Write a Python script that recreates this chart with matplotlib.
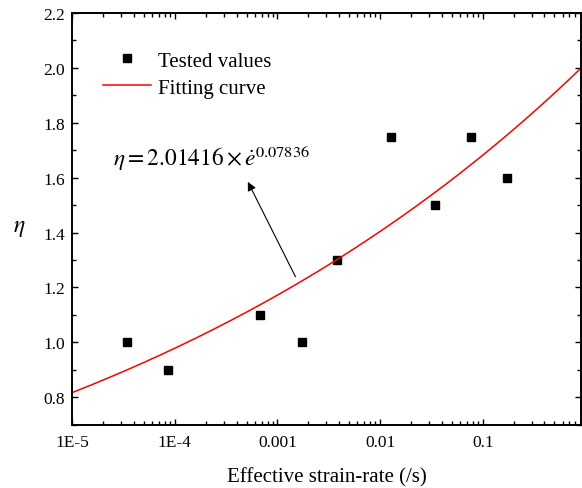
import numpy as np
import matplotlib
matplotlib.use("Agg")
import matplotlib.pyplot as plt

# tested values
strain_rate = [3.39e-5, 8.51e-5, 6.79e-4, 1.72e-3, 3.83e-3, 1.276e-2, 3.40e-2, 7.64e-2, 1.714e-1]
eta_tested = [1.0, 0.9, 1.1, 1.0, 1.3, 1.75, 1.5, 1.75, 1.6]

# fitting curve eta = A * rate^n
fit_A = 2.01416
fit_n = 0.07836

xtick_vals = [1e-5, 1e-4, 1e-3, 1e-2, 1e-1]
xtick_labels = ["1E-5", "1E-4", "0.001", "0.01", "0.1"]
ytick_vals = [0.8, 1.0, 1.2, 1.4, 1.6, 1.8, 2.0, 2.2]

plt.rcParams['font.family'] = ['Liberation Serif', 'DejaVu Serif']
plt.rcParams['mathtext.fontset'] = 'stix'

fig = plt.figure(figsize=(5.82, 4.89), dpi=100)
ax = fig.add_axes([0.1242, 0.1294, 0.8749, 0.842])

xfit = np.logspace(-5, 0, 300)
ax.plot(strain_rate, eta_tested, 's', color='black', ms=6.3, label='Tested values')
ax.plot(xfit, fit_A * xfit ** fit_n, color='red', lw=1.1, label='Fitting curve')

ax.set_xscale('log')
ax.set_xlim(1e-5, 0.918)
ax.set_ylim(0.7, 2.2)
ax.set_xticks(xtick_vals)
ax.set_xticklabels(xtick_labels)
ax.set_yticks(ytick_vals)
ax.set_yticklabels([f"{v:.1f}" for v in ytick_vals])
ax.set_yticks(np.arange(0.7, 2.25, 0.1), minor=True)

ax.tick_params(which='both', direction='in', top=True, right=True, width=1.0, labelsize=12.5)
ax.tick_params(which='major', length=4.5)
ax.tick_params(which='minor', length=2.6)
ax.tick_params(axis='x', which='major', pad=7)
ax.tick_params(axis='y', which='major', pad=5)
for sp in ax.spines.values():
    sp.set_linewidth(1.4)

ax.set_xlabel('Effective strain-rate (/s)', fontsize=15, labelpad=12)
ax.set_ylabel(r'$\eta$', fontsize=17, rotation=0, va='center')
ax.yaxis.set_label_coords(-0.105, 0.48)

ax.text(2.51e-5, 1.645, r'$\eta = 2.01416\times\dot{e}^{0.07836}$', fontsize=16.8, ha='left', va='baseline')
ax.annotate('', xy=(5.0e-4, 1.594), xytext=(1.54e-3, 1.230),
            arrowprops=dict(arrowstyle='-|>', color='black', lw=0.8, mutation_scale=13))

ax.legend(loc='upper left', bbox_to_anchor=(103 / 582, 1 - 52 / 489), bbox_transform=fig.transFigure,
          frameon=False, fontsize=15, borderpad=0, borderaxespad=0, handlelength=2.3,
          handletextpad=0.35, labelspacing=0.36, numpoints=1)

fig.savefig('out.png', dpi=100)
